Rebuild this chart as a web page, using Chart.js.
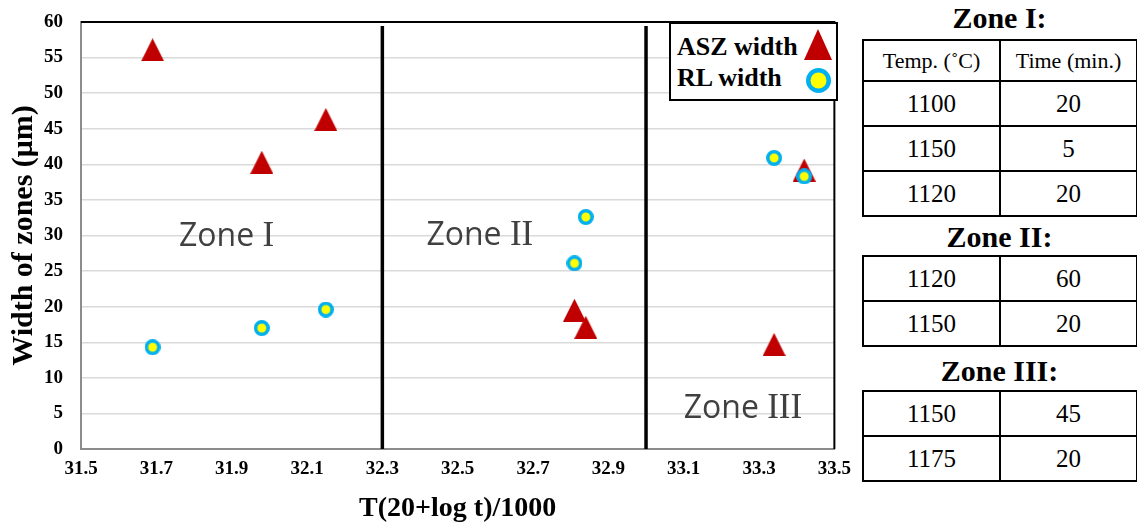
<!DOCTYPE html>
<html>
<head>
<meta charset="utf-8">
<script src="https://cdn.jsdelivr.net/npm/chart.js@4"></script>
<style>
    body { margin: 0; width: 1137px; height: 527px; background: #fff; overflow: hidden; position: relative; font-family: 'Liberation Serif', serif; }
    #chartBox { position: absolute; left: 0; top: 0; width: 860px; height: 527px; }
    #legend { position: absolute; left: 669px; top: 22px; width: 169px; height: 79px; box-sizing: border-box; border: 2px solid #000; background: #fff; font-weight: bold; font-size: 26px; line-height: 24px; }
    #legend .lg-text { position: absolute; left: 6px; white-space: nowrap; }
    #legend canvas { position: absolute; }
    .zone-title { position: absolute; left: 862px; width: 275px; text-align: center; font-weight: bold; font-size: 30px; line-height: 30px; white-space: nowrap; }
    table.zt { position: absolute; left: 862px; width: 276px; border-collapse: collapse; table-layout: fixed; }
    table.zt td { border: 2px solid #000; text-align: center; font-size: 25px; padding: 0; }
    table.zt td.hd { font-size: 22px; }
</style>
</head>
<body>
<div id="chartBox"><canvas id="zonesChart"></canvas></div>
<div id="legend"></div>
<div id="tables"></div>
<script>
// ASZ width (triangles)
const aszX = [31.69, 31.98, 32.15, 32.81, 32.84, 33.34, 33.42]
const aszY = [56.1, 40.3, 46.3, 19.5, 17.1, 14.7, 39.2]
// RL width (circles)
const rlX = [31.69, 31.98, 32.15, 32.81, 32.84, 33.34, 33.42]
const rlY = [14.3, 17.0, 19.6, 26.1, 32.6, 40.9, 38.3]

const xTicks = [31.5, 31.7, 31.9, 32.1, 32.3, 32.5, 32.7, 32.9, 33.1, 33.3, 33.5]
const yTicks = [0, 5, 10, 15, 20, 25, 30, 35, 40, 45, 50, 55, 60]

// zone boundaries and labels (data coordinates)
const zoneDividers = [32.3, 33.0]
const zoneNames = ['I', 'II', 'III']
const zoneLabelX = [31.76, 32.417, 33.10]
const zoneLabelY = [28.5, 28.7, 4.4]

// conditions tables
const zoneTitles = ['Zone I:', 'Zone II:', 'Zone III:']
const zoneTemps = [[1100, 1150, 1120], [1120, 1150], [1150, 1175]]
const zoneTimes = [[20, 5, 20], [60, 20], [45, 20]]

const makeTriangle = (w, h) => {
    const c = document.createElement('canvas')
    c.width = w
    c.height = h
    const g = c.getContext('2d')
    g.fillStyle = '#c00000'
    g.beginPath()
    g.moveTo(w / 2, 0)
    g.lineTo(w, h)
    g.lineTo(0, h)
    g.closePath()
    g.fill()
    return c
}

const makeCircle = (d, lw) => {
    const c = document.createElement('canvas')
    c.width = d
    c.height = d
    const g = c.getContext('2d')
    g.fillStyle = '#ffff00'
    g.strokeStyle = '#00b0f0'
    g.lineWidth = lw
    g.beginPath()
    g.arc(d / 2, d / 2, d / 2 - lw / 2, 0, Math.PI * 2)
    g.fill()
    g.stroke()
    return c
}

const zoneOverlay = {
    id: 'zoneOverlay',
    beforeDatasetsDraw(chart) {
        const { ctx, chartArea: a, scales: { x, y } } = chart
        ctx.save()
        ctx.strokeStyle = '#000'
        ctx.lineWidth = 2
        ctx.beginPath()
        ctx.moveTo(a.left, a.top)
        ctx.lineTo(a.right, a.top)
        ctx.lineTo(a.right, a.bottom)
        ctx.stroke()

        ctx.lineWidth = 3.5
        zoneDividers.forEach(v => {
            const px = x.getPixelForValue(v)
            ctx.beginPath()
            ctx.moveTo(px, a.top + 4)
            ctx.lineTo(px, a.bottom)
            ctx.stroke()
        })

        ctx.fillStyle = '#404040'
        ctx.textBaseline = 'alphabetic'
        zoneNames.forEach((n, i) => {
            const px = x.getPixelForValue(zoneLabelX[i])
            const py = y.getPixelForValue(zoneLabelY[i])
            ctx.font = '32px "Open Sans"'
            ctx.fillText('Zone ', px, py)
            const w = ctx.measureText('Zone ').width
            ctx.font = '35px "Liberation Serif"'
            ctx.fillText(n, px + w, py)
        })
        ctx.restore()
    }
}

const tickFont = { family: 'Liberation Serif', size: 19, weight: 'bold' }

new Chart(document.getElementById('zonesChart'), {
    type: 'scatter',
    data: {
        datasets: [
            {
                label: 'RL width',
                data: rlX.map((v, i) => ({ x: v, y: rlY[i] })),
                pointStyle: makeCircle(16, 3.5),
                order: 0
            },
            {
                label: 'ASZ width',
                data: aszX.map((v, i) => ({ x: v, y: aszY[i] })),
                pointStyle: makeTriangle(23, 23),
                order: 1
            }
        ]
    },
    options: {
        responsive: true,
        maintainAspectRatio: false,
        animation: false,
        layout: { padding: { top: 22, right: 22, left: 0, bottom: 0 } },
        plugins: {
            legend: { display: false },
            tooltip: { enabled: false }
        },
        scales: {
            x: {
                type: 'linear',
                min: 31.5,
                max: 33.5,
                afterBuildTicks: (scale) => { scale.ticks = xTicks.map(v => ({ value: v })) },
                afterFit: (scale) => { scale.height = 78 },
                grid: { display: false, drawTicks: false },
                border: { display: true, color: '#8c8c8c', width: 2 },
                ticks: {
                    color: '#000',
                    font: tickFont,
                    padding: 9,
                    maxRotation: 0,
                    callback: (v) => v.toFixed(1)
                },
                title: {
                    display: true,
                    text: 'T(20+log t)/1000',
                    color: '#000',
                    font: { family: 'Liberation Serif', size: 28, weight: 'bold' },
                    padding: { top: 0, bottom: 1 }
                }
            },
            y: {
                type: 'linear',
                min: 0,
                max: 60,
                afterBuildTicks: (scale) => { scale.ticks = yTicks.map(v => ({ value: v })) },
                afterFit: (scale) => {
                    scale.width = 81
                    scale.paddingTop = 0
                    scale.paddingBottom = 0
                },
                grid: { color: '#dadada', lineWidth: 1.5, drawTicks: false },
                border: { display: true, color: '#8c8c8c', width: 2 },
                ticks: {
                    color: '#000',
                    font: tickFont,
                    padding: 18
                },
                title: {
                    display: true,
                    text: 'Width of zones (μm)',
                    color: '#000',
                    font: { family: 'Liberation Serif', size: 30, weight: 'bold' },
                    padding: { top: 6, bottom: 0 }
                }
            }
        }
    },
    plugins: [zoneOverlay]
})

// legend box
const legend = document.getElementById('legend')
const lgRows = [
    { text: 'ASZ width', top: 11, icon: makeTriangle(28, 31), iconLeft: 133, iconTop: 5 },
    { text: 'RL width', top: 42, icon: makeCircle(25, 4.5), iconLeft: 135, iconTop: 44 }
]
lgRows.forEach(r => {
    const span = document.createElement('span')
    span.className = 'lg-text'
    span.style.top = r.top + 'px'
    span.textContent = r.text
    legend.appendChild(span)
    r.icon.style.left = r.iconLeft + 'px'
    r.icon.style.top = r.iconTop + 'px'
    legend.appendChild(r.icon)
})

// zone condition tables
const tablesDiv = document.getElementById('tables')
const titleTops = [3, 222, 356]
const tableTops = [39, 255, 390]
const rowH = 45
zoneTitles.forEach((t, i) => {
    const h = document.createElement('div')
    h.className = 'zone-title'
    h.style.top = titleTops[i] + 'px'
    h.textContent = t
    tablesDiv.appendChild(h)

    const table = document.createElement('table')
    table.className = 'zt'
    table.style.top = tableTops[i] + 'px'
    let html = ''
    if (i === 0) html += '<tr style="height:41px"><td class="hd">Temp. (˚C)</td><td class="hd">Time (min.)</td></tr>'
    zoneTemps[i].forEach((temp, j) => {
        html += `<tr style="height:${rowH}px"><td>${temp}</td><td>${zoneTimes[i][j]}</td></tr>`
    })
    table.innerHTML = html
    tablesDiv.appendChild(table)
})
</script>
</body>
</html>
